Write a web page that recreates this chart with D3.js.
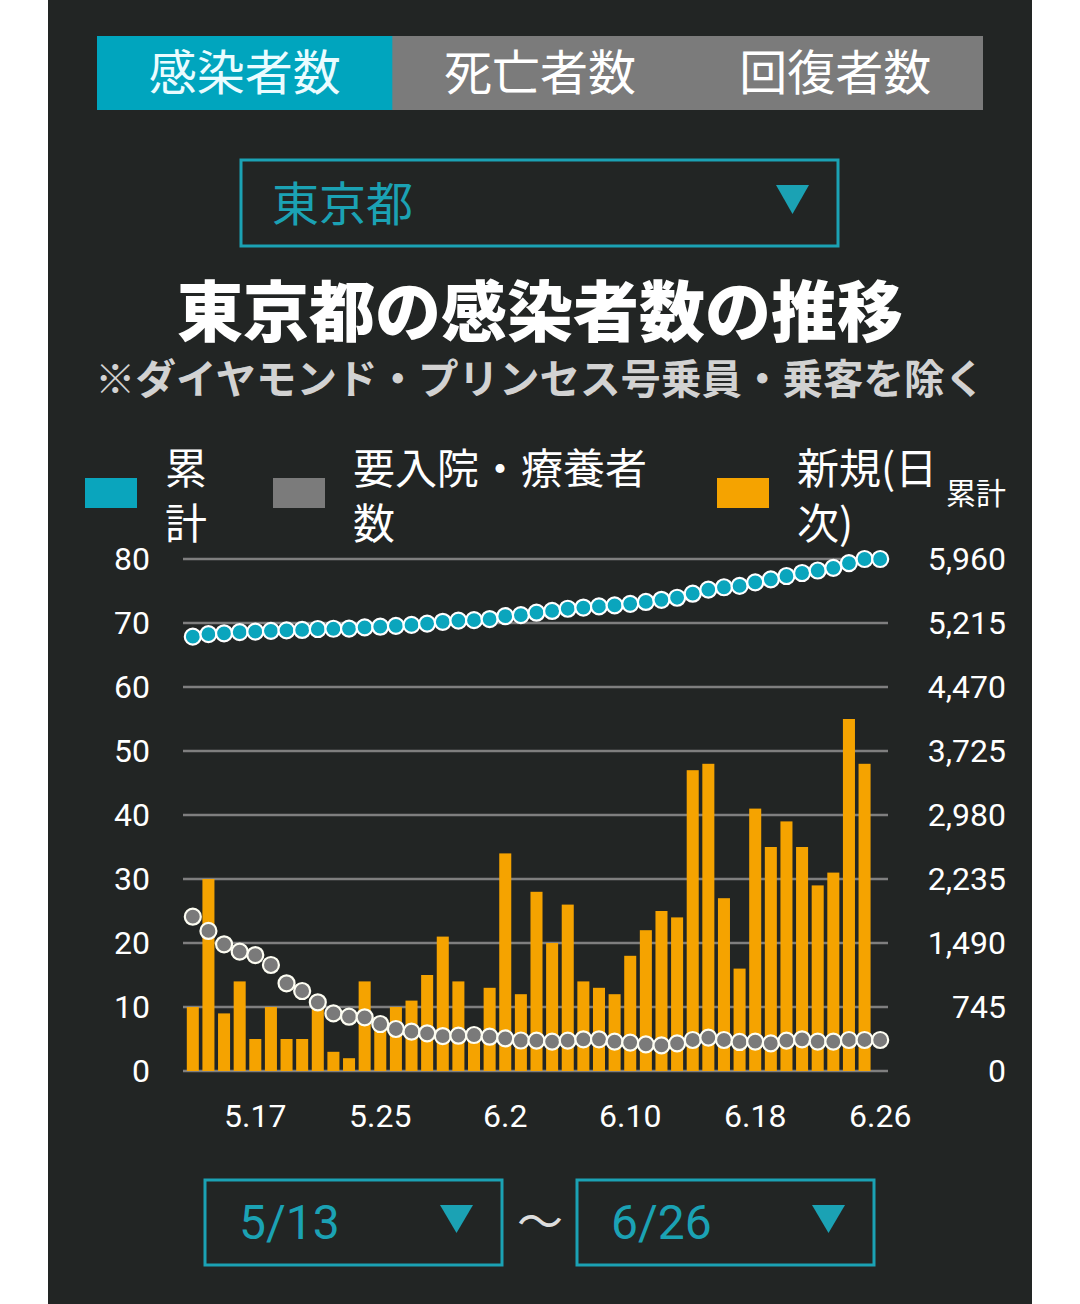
<!DOCTYPE html>
<html><head><meta charset="utf-8">
<script src="https://cdn.jsdelivr.net/npm/d3@7"></script>
<style>
html,body{margin:0;padding:0;background:#fff;}
svg{display:block;}
</style></head>
<body>
<script>
// ---- data ----
const dates = ["5/13","5/14","5/15","5/16","5/17","5/18","5/19","5/20","5/21","5/22","5/23","5/24","5/25","5/26","5/27","5/28","5/29","5/30","5/31","6/1","6/2","6/3","6/4","6/5","6/6","6/7","6/8","6/9","6/10","6/11","6/12","6/13","6/14","6/15","6/16","6/17","6/18","6/19","6/20","6/21","6/22","6/23","6/24","6/25","6/26"];
const newCases = [10,30,9,14,5,10,5,5,11,3,2,14,8,10,11,15,21,14,5,13,34,12,28,20,26,14,13,12,18,22,25,24,47,48,27,16,41,35,39,35,29,31,55,48,0];
const cumulative = [5056,5086,5095,5109,5114,5124,5129,5134,5145,5148,5150,5164,5172,5182,5193,5208,5229,5243,5248,5261,5295,5307,5335,5355,5381,5395,5408,5420,5438,5460,5485,5509,5556,5604,5631,5647,5688,5723,5762,5797,5826,5857,5912,5960,5960];
const hospitalized = [1796,1630,1475,1389,1350,1234,1021,931,800,671,632,625,547,489,458,439,407,411,419,399,380,355,353,342,353,369,369,342,330,310,299,322,361,388,361,338,342,322,353,369,342,342,361,361,361];
const leftTicks = [0,10,20,30,40,50,60,70,80];
const rightTicks = [0,745,1490,2235,2980,3725,4470,5215,5960];
const xTickDates = ["5/17","5/25","6/2","6/10","6/18","6/26"];
const xTickLabels = ["5.17","5.25","6.2","6.10","6.18","6.26"];
const tabs = ["感染者数","死亡者数","回復者数"];
const legendItems = [
  {lines:["累","計"], color:"#0aa5bd"},
  {lines:["要入院・療養者","数"], color:"#7b7b7b"},
  {lines:["新規(日","次)"], color:"#f5a300"}
];

// ---- drawing ----
const W = 1080, H = 1304;
const TEAL = "#0aa5bd", TEAL_TXT = "#1ba2b4";
const JP = "'Noto Sans CJK JP','Noto Sans',sans-serif";
const NUM = "Roboto,'Noto Sans',sans-serif";

const svg = d3.select("body").append("svg").attr("width", W).attr("height", H);
svg.append("rect").attr("x",48).attr("y",0).attr("width",984).attr("height",H).attr("fill","#222524");

// tabs
const tabX = d3.scaleBand().domain(tabs).range([97, 983]);
svg.append("rect").attr("x",97).attr("y",36).attr("width",886).attr("height",74).attr("fill","#7b7b7b");
svg.append("rect").attr("x",97).attr("y",36).attr("width",tabX.bandwidth()).attr("height",74).attr("fill","#00a5be");
svg.selectAll("text.tab").data(tabs).join("text").attr("class","tab")
  .attr("x", d => tabX(d) + tabX.bandwidth()/2).attr("y", 90)
  .attr("text-anchor","middle").attr("font-family",JP).attr("font-size",48)
  .attr("fill", (d,i) => i===0 ? "#eafcff" : "#ffffff").text(d => d);

// prefecture dropdown
svg.append("rect").attr("x",241).attr("y",160).attr("width",597).attr("height",86)
  .attr("fill","none").attr("stroke",TEAL_TXT).attr("stroke-width",3);
svg.append("text").attr("x",272).attr("y",221).attr("font-family",JP).attr("font-size",47)
  .attr("fill",TEAL_TXT).text("東京都");
svg.append("path").attr("d","M776,185L809,185L792.5,214Z").attr("fill",TEAL_TXT);

// title
svg.append("text").attr("x",540).attr("y",336).attr("text-anchor","middle")
  .attr("font-family",JP).attr("font-weight",900).attr("font-size",66).attr("fill","#ffffff")
  .text("東京都の感染者数の推移");
svg.append("text").attr("x",540).attr("y",394).attr("text-anchor","middle")
  .attr("font-family",JP).attr("font-weight",700).attr("font-size",40.5).attr("fill","#d2d2d2")
  .text("※ダイヤモンド・プリンセス号乗員・乗客を除く");

// legend
const legX = [85, 273, 717];
legendItems.forEach((it, i) => {
  const g = svg.append("g");
  g.append("rect").attr("x",legX[i]).attr("y",478).attr("width",52).attr("height",30).attr("fill",it.color);
  it.lines.forEach((ln, j) => {
    g.append("text").attr("x",legX[i]+80).attr("y",484 + j*55)
      .attr("font-family",JP).attr("font-size",42).attr("fill","#ffffff").text(ln);
  });
});
svg.append("text").attr("x",1006).attr("y",504).attr("text-anchor","end")
  .attr("font-family",JP).attr("font-size",30).attr("fill","#ffffff").text("累計");

// scales
const x = d3.scaleBand().domain(dates).range([185, 888]).paddingInner(0.23).paddingOuter(0.115);
const yL = d3.scaleLinear().domain([0,80]).range([1071,559]);
const yR = d3.scaleLinear().domain([0,5960]).range([1071,559]);

// gridlines
svg.append("g").selectAll("line").data(leftTicks).join("line")
  .attr("x1",183).attr("x2",888).attr("y1",d=>yL(d)).attr("y2",d=>yL(d))
  .attr("stroke","#7f7f7f").attr("stroke-width",2.5);

// left axis
const axL = svg.append("g").attr("transform","translate(150,0)")
  .call(d3.axisLeft(yL).tickValues(leftTicks).tickSize(0).tickPadding(0));
axL.select(".domain").remove();
axL.selectAll("text").attr("font-family",NUM).attr("font-size",32).attr("fill","#ffffff");

// right axis
const axR = svg.append("g").attr("transform","translate(1006,0)")
  .call(d3.axisLeft(yR).tickValues(rightTicks).tickSize(0).tickPadding(0).tickFormat(d3.format(",")));
axR.select(".domain").remove();
axR.selectAll("text").attr("font-family",NUM).attr("font-size",32).attr("fill","#ffffff");

// x axis
const xLabel = d3.scaleOrdinal().domain(xTickDates).range(xTickLabels);
const axX = svg.append("g").attr("transform","translate(0,1104)")
  .call(d3.axisBottom(x).tickValues(xTickDates).tickSize(0).tickPadding(0).tickFormat(d => xLabel(d)));
axX.select(".domain").remove();
axX.selectAll("text").attr("font-family",NUM).attr("font-size",32).attr("fill","#ffffff");

// bars
svg.append("g").selectAll("rect").data(dates).join("rect")
  .attr("x", d => x(d)).attr("width", x.bandwidth())
  .attr("y", (d,i) => yL(newCases[i])).attr("height", (d,i) => yL(0) - yL(newCases[i]))
  .attr("fill","#f5a300");

// hospitalized dots
svg.append("g").selectAll("circle").data(dates).join("circle")
  .attr("cx", d => x(d) + x.bandwidth()/2).attr("cy", (d,i) => yR(hospitalized[i]))
  .attr("r", 8).attr("fill","#7a7a7a").attr("stroke","#fdfdf2").attr("stroke-width",2.2);

// cumulative dots
svg.append("g").selectAll("circle").data(dates).join("circle")
  .attr("cx", d => x(d) + x.bandwidth()/2).attr("cy", (d,i) => yR(cumulative[i]))
  .attr("r", 8).attr("fill",TEAL).attr("stroke","#ffffff").attr("stroke-width",2.2);

// date range selectors
const sel = [{x:205, label:dates[0]}, {x:577, label:dates[dates.length-1]}];
sel.forEach(s => {
  svg.append("rect").attr("x",s.x).attr("y",1180).attr("width",297).attr("height",85)
    .attr("fill","none").attr("stroke",TEAL_TXT).attr("stroke-width",3);
  svg.append("text").attr("x",s.x+34).attr("y",1239).attr("font-family",NUM).attr("font-size",48)
    .attr("fill",TEAL_TXT).text(s.label);
  svg.append("path").attr("d",`M${s.x+235},1205L${s.x+268},1205L${s.x+251.5},1233Z`).attr("fill",TEAL_TXT);
});
svg.append("text").attr("x",540).attr("y",1238).attr("text-anchor","middle")
  .attr("font-family",JP).attr("font-size",46).attr("fill","#dddddd").text("〜");
</script>
</body></html>
